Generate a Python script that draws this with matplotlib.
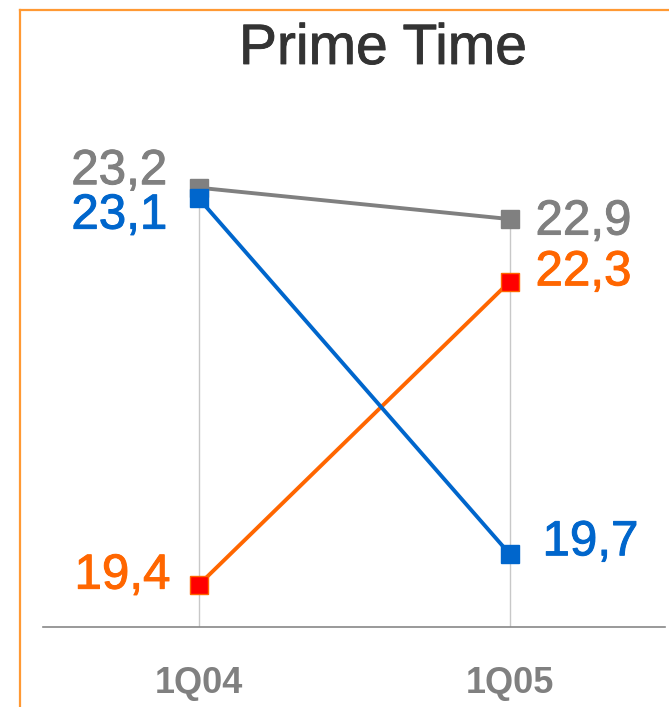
import matplotlib
matplotlib.use("Agg")
import matplotlib.pyplot as plt
from matplotlib.lines import Line2D
import matplotlib.patheffects as pe

plt.rcParams['font.family'] = ['Liberation Sans', 'DejaVu Sans']

# Data
quarters = ["1Q04", "1Q05"]
series_gray = [23.2, 22.9]
series_blue = [23.1, 19.7]
series_orange = [19.4, 22.3]

GRAY = "#808080"
BLUE = "#0066CC"
ORANGE = "#FF6600"

W, H = 669, 707
fig = plt.figure(figsize=(W / 100, H / 100), dpi=100)

ax_left, ax_right = 43 / W, 665 / W
ax_bottom = 1 - 627 / H
ax_top = 1 - 104 / H
ax = fig.add_axes([ax_left, ax_bottom, ax_right - ax_left, ax_top - ax_bottom])
ax.set_xlim(-0.5, 1.5)
ax.set_ylim(19.0, 24.0)

x = list(range(len(quarters)))

# drop lines from the top value of each quarter down to the axis
tops = [max(a, b, c) for a, b, c in zip(series_gray, series_blue, series_orange)]
ax.vlines(x, 19.0, tops, colors="#c8c8c8", linewidth=1.0, zorder=1)

ms = 13.5
lw = 2.8
ax.plot(x, series_gray, color=GRAY, lw=lw, marker="s", ms=ms, mfc=GRAY, mec=GRAY, zorder=3)
ax.plot(x, series_orange, color=ORANGE, lw=lw, marker="s", ms=ms, mfc="#FF0000", mec=ORANGE, mew=1.0, zorder=3)
ax.plot(x, series_blue, color=BLUE, lw=lw, marker="s", ms=ms, mfc=BLUE, mec=BLUE, zorder=4)

def fmt(v):
    return f"{v:.1f}".replace(".", ",")

fs = 35.5

def label(val, xi, dx, dy, ha, color):
    t = ax.annotate(fmt(val), (xi, val), xytext=(dx, dy), textcoords="offset pixels",
                    ha=ha, va="center", fontsize=fs, color=color)
    t.set_path_effects([pe.Stroke(linewidth=0.7, foreground=color), pe.Normal()])

# value labels, left quarter (right-aligned) and right quarter (left-aligned)
label(series_gray[0], 0, -31, 16, "right", GRAY)
label(series_blue[0], 0, -31, -18, "right", BLUE)
label(series_orange[0], 0, -28, 9, "right", ORANGE)
label(series_gray[1], 1, 26, -3, "left", GRAY)
label(series_orange[1], 1, 26, 9, "left", ORANGE)
label(series_blue[1], 1, 33, 11, "left", BLUE)

for s in ["top", "right", "left"]:
    ax.spines[s].set_visible(False)
ax.spines["bottom"].set_color("#888888")
ax.spines["bottom"].set_linewidth(1.2)
ax.set_yticks([])
ax.set_xticks(x)
ax.set_xticklabels(quarters, fontsize=26, fontweight="bold", color=GRAY)
ax.tick_params(axis="x", length=0, pad=28)

fig.text(383 / W, 1 - 49 / H, "Prime Time", ha="center", va="center", fontsize=41, color="#333333",
         path_effects=[pe.Stroke(linewidth=0.6, foreground="#333333"), pe.Normal()])

# orange frame on the top and left edges
bx = 19.5 / W
by = 1 - 9.5 / H
fig.add_artist(Line2D([bx, bx], [0, by], transform=fig.transFigure, color="#FF9933", lw=1.6))
fig.add_artist(Line2D([bx, 1], [by, by], transform=fig.transFigure, color="#FF9933", lw=1.6))

fig.savefig("out.png", dpi=100)
